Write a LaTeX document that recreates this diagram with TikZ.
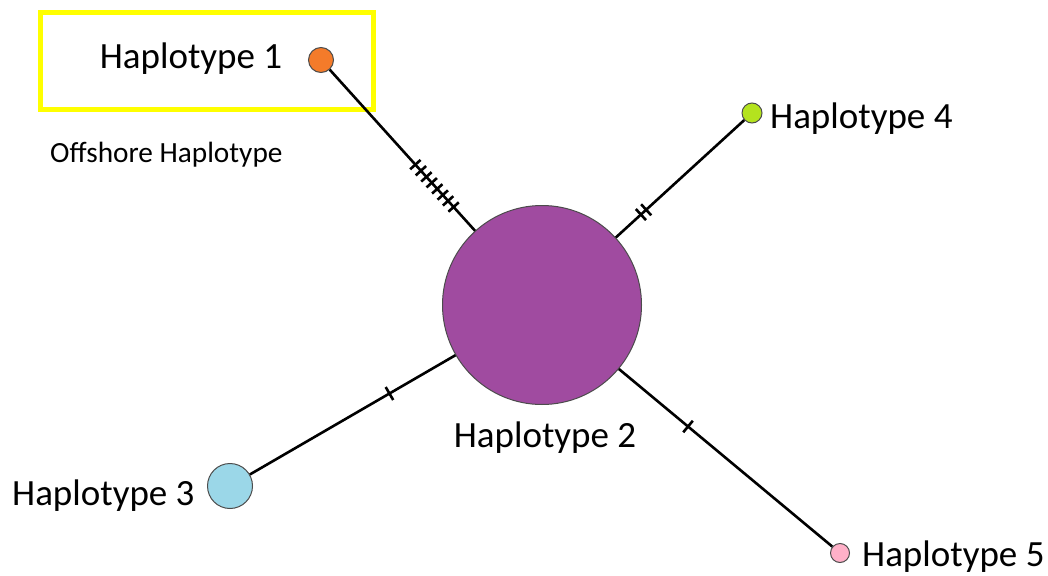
\documentclass[tikz,border=0pt]{standalone}
\usepackage{fontspec}
\setmainfont{Carlito}
\usetikzlibrary{calc}
\definecolor{hOne}{HTML}{F47B2A}
\definecolor{hTwo}{HTML}{A04BA0}
\definecolor{hThree}{HTML}{9BD7E8}
\definecolor{hFour}{HTML}{B4E31E}
\definecolor{hFive}{HTML}{FFB0C8}
\definecolor{boxYellow}{HTML}{FFFF00}
\tikzset{
  hap/.style={circle, draw=black!70, line width=1pt, inner sep=0pt},
  link/.style={line width=2.6pt, black},
  tickmark/.style={sloped, inner sep=0pt, minimum width=2.6pt, minimum height=#1, fill=black},
  tickmark/.default=15pt,
  lbl/.style={inner sep=0pt, font=\fontsize{37}{40}\selectfont},
  smalllbl/.style={inner sep=0pt, font=\fontsize{29.3}{32}\selectfont},
}
\begin{document}
\begin{tikzpicture}[x=1pt,y=-1pt]
\useasboundingbox (0,0) rectangle (1048,575);
% yellow box
\node[draw=boxYellow, line width=5pt, minimum width=333pt, minimum height=97pt, inner sep=0pt] (box) at (206.5,61.5) {};
% haplotype circles
\node[hap, fill=hTwo, minimum size=199pt] (h2) at (542,305) {};
\node[hap, fill=hOne, minimum size=25pt] (h1) at (321,60) {};
\node[hap, fill=hThree, minimum size=45pt] (h3) at (230,486) {};
\node[hap, fill=hFour, minimum size=20pt] (h4) at (752,113) {};
\node[hap, fill=hFive, minimum size=19pt] (h5) at (840,553) {};
% links
\draw[link] (h2) -- (h1);
\draw[link] (h2) -- (h3);
\draw[link] (h2) -- (h4);
\draw[link] (h2) -- (h5);
% mutation ticks
\path (h2.center) -- (h1.center)
  foreach \p in {0.400,0.425,0.449,0.474,0.499,0.523,0.548,0.573} {node[tickmark=14pt, pos=\p] {}};
\path (h2.center) -- (h4.center)
  node[tickmark, pos=0.471] {} node[tickmark, pos=0.496] {};
\path (h2.center) -- (h3.center) node[tickmark, pos=0.489] {};
\path (h2.center) -- (h5.center) node[tickmark, pos=0.490] {};
% labels
\node[lbl] (l1) at (191,59) {Haplotype 1};
\node[smalllbl, anchor=west] (off) at (50,155) {Offshore Haplotype};
\node[lbl, anchor=west] (l4) at (770,119) {Haplotype 4};
\node[lbl] (l2) at (545,438) {Haplotype 2};
\node[lbl, anchor=west] (l3) at (12,496) {Haplotype 3};
\node[lbl, anchor=west] (l5) at (862,557) {Haplotype 5};
\end{tikzpicture}
\end{document}
